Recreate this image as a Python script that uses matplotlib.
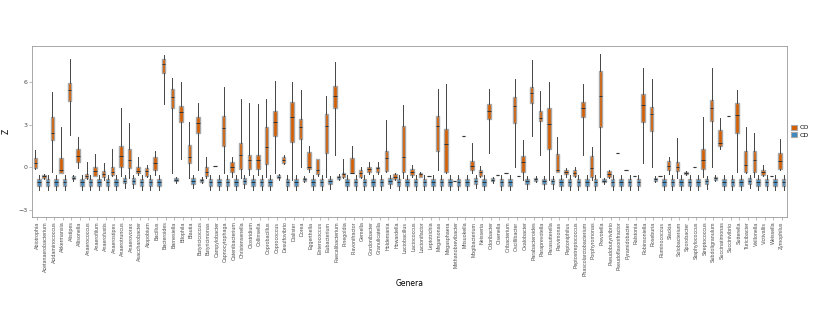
import numpy as np
import matplotlib
matplotlib.use("Agg")
import matplotlib.pyplot as plt
from matplotlib.patches import Patch

nan = np.nan

genera = [
    "Abiotrophia", "Acetanaerobacterium", "Acidaminococcus", "Akkermansia", "Alistipes",
    "Allisonella", "Anaerococcus", "Anaerofilum", "Anaerofustis", "Anaerostipes",
    "Anaerotruncus", "Anaerovorax", "Asaccharobacter", "Atopobium", "Bacillus",
    "Bacteroides", "Barnesiella", "Bilophila", "Blautia", "Butyricicoccus",
    "Butyricimonas", "Campylobacter", "Capnocytophaga", "Catenibacterium", "Christensenella",
    "Clostridium", "Collinsella", "Coprobacillus", "Coprococcus", "Desulfovibrio",
    "Dialister", "Dorea", "Eggerthella", "Enterococcus", "Eubacterium",
    "Faecalibacterium", "Finegoldia", "Flavonifractor", "Gemella", "Gordonibacter",
    "Granulicatella", "Holdemania", "Howardella", "Lactobacillus", "Lactococcus",
    "Lactonifactor", "Leptotrichia", "Megamonas", "Megasphaera", "Methanobrevibacter",
    "Mitsuokella", "Mogibacterium", "Neisseria", "Odoribacter", "Olsenella",
    "Oribacterium", "Oscillibacter", "Oxalobacter", "Parabacteroides", "Paraprevotella",
    "Parasutterella", "Parvimonas", "Peptoniphilus", "Peptostreptococcus", "Phascolarctobacterium",
    "Porphyromonas", "Prevotella", "Pseudobutyrivibrio", "Pseudoflavonifractor", "Pyramidobacter",
    "Ralstonia", "Robinsoniella", "Roseburia", "Ruminococcus", "Slackia",
    "Solobacterium", "Sporobacter", "Staphylococcus", "Streptococcus", "Subdoligranulum",
    "Succinatimonas", "Succinivibrio", "Sutterella", "Turicibacter", "Veillonella",
    "Victivallis", "Weissella", "Zymophilus",
]

groups = ["CO", "CD"]

# group 1 (orange) box stats
o_q1 = [-0.07, -0.75, 1.93, -0.38, 4.69, 0.40, -0.78, -0.61, -0.71, -0.54,
        0.04, -0.07, -0.42, -0.64, -0.19, 6.64, 4.21, 3.22, 0.28, 2.40,
        -0.61, 0.09, 1.53, -0.35, -0.12, -0.12, -0.10, 0.24, 2.24, 0.33,
        1.81, 2.00, -0.12, -0.47, 0.99, 4.22, -0.66, -0.42, -0.71, -0.35,
        -0.35, -0.26, -0.85, -0.35, -0.54, -0.66, -0.61, 1.18, -0.35, -0.94,
        2.22, -0.23, -0.59, 3.39, -0.52, -0.38, 3.11, -0.31, 4.52, 3.28,
        1.27, -0.31, -0.47, -0.61, 3.53, -0.71, 2.83, -0.71, 0.99, -0.21,
        -0.61, 3.23, 2.59, -0.61, -0.23, -0.26, -0.49, 0.05, -0.12, 3.30,
        1.51, 3.65, 2.40, -0.35, -0.31, -0.54, -0.61, -0.14]
o_med = [0.33, -0.63, 2.40, -0.19, 5.46, 0.80, -0.60, -0.26, -0.47, -0.31,
         0.80, 0.52, -0.24, -0.30, 0.28, 7.28, 4.95, 3.89, 0.75, 3.11,
         -0.31, 0.09, 2.80, 0.00, 0.87, 0.52, 0.50, 1.46, 3.23, 0.50,
         3.58, 2.83, -0.02, -0.19, 2.88, 5.04, -0.50, -0.38, -0.38, -0.14,
         -0.07, 0.68, -0.70, 0.71, -0.31, -0.50, -0.61, 2.88, 1.65, -0.94,
         2.22, 0.09, -0.35, 3.94, -0.52, -0.38, 4.34, 0.35, 5.23, 3.46,
         3.06, -0.19, -0.31, -0.38, 4.17, -0.07, 5.04, -0.49, 0.99, -0.21,
         -0.61, 4.41, 3.77, -0.61, 0.12, 0.05, -0.40, 0.05, 0.52, 4.22,
         1.70, 3.65, 3.70, 0.17, 0.52, -0.35, -0.61, 0.47]
o_q3 = [0.64, -0.52, 3.58, 0.68, 5.98, 1.27, -0.47, 0.04, -0.24, 0.00,
        1.53, 1.27, -0.02, -0.05, 0.71, 7.63, 5.51, 4.35, 1.58, 3.53,
        -0.02, 0.09, 3.63, 0.35, 1.70, 0.85, 0.85, 2.83, 3.98, 0.71,
        4.59, 3.39, 1.06, 0.57, 3.75, 5.75, -0.38, 0.64, -0.19, 0.05,
        0.05, 1.18, -0.49, 2.92, -0.14, -0.38, -0.61, 3.65, 2.69, -0.94,
        2.22, 0.45, -0.19, 4.45, -0.52, -0.38, 4.95, 0.80, 5.70, 3.98,
        4.17, 0.94, -0.19, -0.23, 4.59, 0.80, 6.83, -0.26, 0.99, -0.21,
        -0.61, 5.18, 4.29, -0.61, 0.47, 0.35, -0.31, 0.05, 1.27, 4.76,
        2.64, 3.65, 4.52, 1.16, 1.18, -0.19, -0.61, 0.99]
o_lo = [-0.14, -0.80, -0.31, -0.42, 2.28, -0.07, -0.83, -0.65, -0.90, -0.65,
        -0.65, -0.78, -0.54, -0.70, -0.54, 4.45, -0.38, 0.59, -0.78, -0.19,
        -0.78, 0.09, -0.38, -0.66, -0.73, -0.54, -0.54, -0.66, -0.42, 0.24,
        -0.89, 0.05, -0.31, -0.59, -0.66, 0.83, -0.73, -0.42, -0.78, -0.47,
        -0.47, -0.35, -0.89, -0.73, -0.66, -0.71, -0.61, -0.19, -0.42, -0.94,
        2.22, -0.42, -0.66, 0.99, -0.52, -0.38, 0.00, -0.89, 2.24, 0.87,
        -0.89, -0.35, -0.66, -0.71, 0.87, -0.89, -0.66, -0.78, 0.99, -0.21,
        -0.61, 0.28, 0.05, -0.61, -0.47, -0.73, -0.54, 0.05, -0.66, 0.05,
        1.27, 3.65, -0.35, -0.42, -0.66, -0.61, -0.61, -0.19]
o_hi = [1.23, -0.45, 5.35, 2.87, 7.65, 2.12, 0.35, 0.92, 0.28, 1.27,
        4.17, 3.15, 0.75, 0.16, 1.15, 7.94, 6.29, 6.00, 3.23, 4.57,
        0.75, 0.09, 5.65, 0.75, 4.81, 4.52, 4.50, 4.83, 6.13, 0.87,
        6.01, 5.47, 1.53, 0.57, 5.04, 7.42, 0.57, 1.53, 0.05, 0.35,
        0.35, 3.35, -0.42, 4.41, 0.16, -0.31, -0.61, 5.51, 5.87, -0.94,
        2.22, 1.70, 0.09, 5.54, -0.52, -0.38, 6.22, 1.93, 7.59, 5.42,
        6.06, 2.17, -0.07, 0.05, 5.87, 1.46, 7.99, -0.19, 0.99, -0.21,
        -0.61, 7.04, 6.22, -0.61, 0.75, 2.05, -0.26, 0.05, 3.58, 7.04,
        3.51, 3.65, 5.47, 2.83, 2.40, 0.17, -0.61, 2.00]

# group 2 (blue) box stats
b_q1 = [-1.30, -1.30, -1.30, -1.30, -0.83, -1.30, -1.30, -1.30, -1.30, -1.30,
        -1.14, -1.16, -1.30, -1.30, -1.30, nan, -0.99, nan, -1.16, -1.02,
        -1.30, -1.30, -1.30, -1.30, -1.16, -1.30, -1.30, -1.30, -0.78, -1.30,
        -1.30, -0.95, -1.30, -1.30, -1.21, -0.81, -1.30, -1.30, -1.30, -1.30,
        -1.30, -1.16, -1.30, -1.30, -1.30, -1.30, -1.30, -1.30, -1.30, -1.30,
        -1.30, -1.16, -1.30, -0.99, -1.30, -1.30, -0.59, -1.21, -0.95, -1.21,
        -1.21, -1.30, -1.30, -1.30, -1.30, -1.30, -1.04, -1.30, -1.30, -1.30,
        -1.30, nan, -0.95, -1.30, -1.30, -1.30, -1.30, -1.30, -1.21, -0.88,
        -1.30, -1.30, -1.30, -1.16, -1.30, -1.30, -1.30, -1.30]
b_med = [-1.06, -1.06, -1.06, -1.06, -0.73, -1.06, -1.06, -1.06, -1.06, -1.06,
         -0.94, -0.96, -1.06, -1.06, -1.06, nan, -0.89, nan, -0.96, -0.92,
         -1.06, -1.06, -1.06, -1.06, -0.96, -1.06, -1.06, -1.06, -0.68, -1.06,
         -1.06, -0.85, -1.06, -1.06, -1.01, -0.71, -1.06, -1.06, -1.06, -1.06,
         -1.06, -0.96, -1.06, -1.06, -1.06, -1.06, -1.06, -1.06, -1.06, -1.06,
         -1.06, -0.96, -1.06, -0.89, -1.06, -1.06, -0.59, -1.01, -0.85, -1.01,
         -1.01, -1.06, -1.06, -1.06, -1.06, -1.06, -0.94, -1.06, -1.06, -1.06,
         -1.06, nan, -0.85, -1.06, -1.06, -1.06, -1.06, -1.06, -1.01, -0.78,
         -1.06, -1.06, -1.06, -0.96, -1.06, -1.06, -1.06, -1.06]
b_q3 = [-0.86, -0.86, -0.86, -0.86, -0.63, -0.86, -0.86, -0.86, -0.86, -0.86,
        -0.77, -0.79, -0.86, -0.86, -0.86, nan, -0.79, nan, -0.79, -0.82,
        -0.86, -0.86, -0.86, -0.86, -0.79, -0.86, -0.86, -0.86, -0.58, -0.86,
        -0.86, -0.75, -0.86, -0.86, -0.84, -0.61, -0.86, -0.86, -0.86, -0.86,
        -0.86, -0.79, -0.86, -0.86, -0.86, -0.86, -0.86, -0.86, -0.86, -0.86,
        -0.86, -0.79, -0.86, -0.79, -0.86, -0.86, -0.59, -0.84, -0.75, -0.84,
        -0.84, -0.86, -0.86, -0.86, -0.86, -0.86, -0.84, -0.86, -0.86, -0.86,
        -0.86, nan, -0.75, -0.86, -0.86, -0.86, -0.86, -0.86, -0.84, -0.68,
        -0.86, -0.86, -0.86, -0.79, -0.86, -0.86, -0.86, -0.86]
b_lo = [-1.62, -1.62, -1.62, -1.62, -0.95, -1.62, -1.62, -1.62, -1.62, -1.62,
        -1.44, -1.46, -1.62, -1.62, -1.62, nan, -1.11, nan, -1.46, -1.14,
        -1.62, -1.62, -1.62, -1.62, -1.46, -1.62, -1.62, -1.62, -0.90, -1.62,
        -1.62, -1.07, -1.62, -1.62, -1.51, -0.93, -1.62, -1.62, -1.62, -1.62,
        -1.62, -1.46, -1.62, -1.62, -1.62, -1.62, -1.62, -1.62, -1.62, -1.62,
        -1.62, -1.46, -1.62, -1.11, -1.62, -1.62, -0.59, -1.51, -1.07, -1.51,
        -1.51, -1.62, -1.62, -1.62, -1.62, -1.62, -1.16, -1.62, -1.62, -1.62,
        -1.62, nan, -1.07, -1.62, -1.62, -1.62, -1.62, -1.62, -1.51, -1.00,
        -1.62, -1.62, -1.62, -1.46, -1.62, -1.62, -1.62, -1.62]
b_hi = [-0.52, -0.52, -0.52, -0.52, -0.53, -0.52, -0.52, -0.52, -0.52, -0.52,
        -0.54, -0.56, -0.52, -0.52, -0.52, nan, -0.69, nan, -0.56, -0.72,
        -0.52, -0.52, -0.52, -0.52, -0.56, -0.52, -0.52, -0.52, -0.48, -0.52,
        -0.52, -0.65, -0.52, -0.52, -0.61, -0.51, -0.52, -0.52, -0.52, -0.52,
        -0.52, -0.56, -0.52, -0.52, -0.52, -0.52, -0.52, -0.52, -0.52, -0.52,
        -0.52, -0.56, -0.52, -0.69, -0.52, -0.52, -0.59, -0.61, -0.65, -0.61,
        -0.61, -0.52, -0.52, -0.52, -0.52, -0.52, -0.74, -0.52, -0.52, -0.52,
        -0.52, nan, -0.65, -0.52, -0.52, -0.52, -0.52, -0.52, -0.61, -0.58,
        -0.52, -0.52, -0.52, -0.56, -0.52, -0.52, -0.52, -0.52]

yticks = [-3, 0, 3, 6]

orange = "#D55E00"
blue = "#3C88BF"
grey_txt = "#4d4d4d"


def make_stats(q1, med, q3, lo, hi):
    stats, keep = [], []
    for i in range(len(med)):
        if np.isnan(med[i]):
            continue
        stats.append(dict(q1=q1[i], med=med[i], q3=q3[i], whislo=lo[i], whishi=hi[i], fliers=[]))
        keep.append(i)
    return stats, np.array(keep)


fig = plt.figure(figsize=(8.3, 3.2), dpi=100)
ax = fig.add_axes([0.0386, 0.3228, 0.9096, 0.5334])

for (q1, med, q3, lo, hi), col, off in [((o_q1, o_med, o_q3, o_lo, o_hi), orange, -0.22),
                                        ((b_q1, b_med, b_q3, b_lo, b_hi), blue, 0.22)]:
    stats, idx = make_stats(q1, med, q3, lo, hi)
    ax.bxp(stats, positions=idx + off, widths=0.4, patch_artist=True,
           showcaps=False, showfliers=False, manage_ticks=False,
           boxprops=dict(facecolor=col, edgecolor="#a8a8a8", linewidth=1.0),
           medianprops=dict(color="#333333", linewidth=0.7),
           whiskerprops=dict(color="#444444", linewidth=0.7))

ax.set_xlim(-0.6, len(genera) - 0.4)
ax.set_ylim(-3.5, 8.57)
ax.set_xticks(np.arange(len(genera)))
ax.set_xticklabels(genera, rotation=90, fontsize=3.8, color=grey_txt,
                   family=["Liberation Sans Narrow", "Liberation Sans", "DejaVu Sans"])
ax.set_yticks(yticks)
ax.set_yticklabels([str(t).replace("-", "\u2212") for t in yticks], fontsize=4.5, color=grey_txt)
ax.tick_params(axis="both", length=2, width=0.4, color="#888888", pad=1.5)
for s in ax.spines.values():
    s.set_color("#999999")
    s.set_linewidth(0.6)

ax.set_xlabel("Genera", fontsize=5.5, labelpad=2)
ax.set_ylabel("Z", fontsize=5.5, labelpad=5)

handles = [Patch(facecolor=orange, edgecolor="#a8a8a8", linewidth=0.8),
           Patch(facecolor=blue, edgecolor="#a8a8a8", linewidth=0.8)]
ax.legend(handles, groups, loc="center left", bbox_to_anchor=(0.998, 0.5),
          frameon=False, fontsize=4.5, handlelength=1.0, handleheight=0.8,
          handletextpad=0.4, labelspacing=0.3)

fig.savefig("out.png", dpi=100)
